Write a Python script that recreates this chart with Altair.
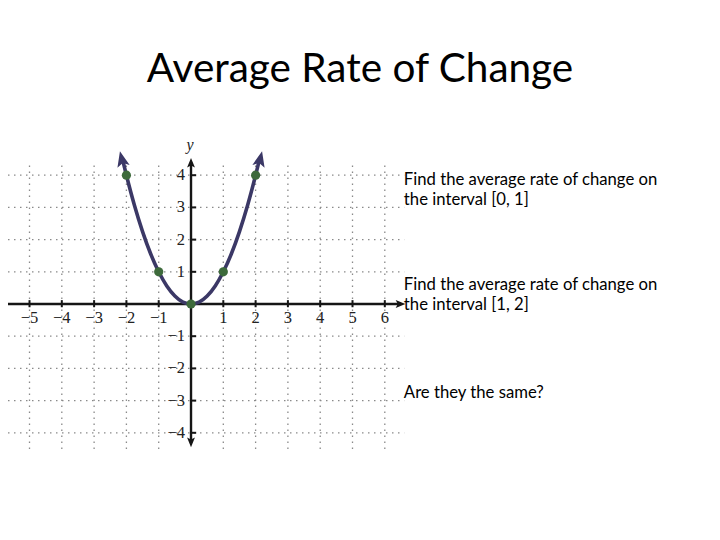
import altair as alt
import pandas as pd

# ---------------- data ----------------
title_text = "Average Rate of Change"

x_ticks = [-6, -5, -4, -3, -2, -1, 1, 2, 3, 4, 5, 6]
x_tick_labels = ["−6", "−5", "−4", "−3", "−2", "−1", "1", "2", "3", "4", "5", "6"]
y_ticks = [-4, -3, -2, -1, 1, 2, 3, 4]
y_tick_labels = ["−4", "−3", "−2", "−1", "1", "2", "3", "4"]

curve_x = [-2.12, -2.0, -1.75, -1.5, -1.25, -1.0, -0.75, -0.5, -0.25, 0.0,
           0.25, 0.5, 0.75, 1.0, 1.25, 1.5, 1.75, 2.0, 2.12]
curve_y = [4.49, 4.0, 3.06, 2.25, 1.56, 1.0, 0.56, 0.25, 0.06, 0.0,
           0.06, 0.25, 0.56, 1.0, 1.56, 2.25, 3.06, 4.0, 4.49]

point_x = [-2, -1, 0, 1, 2]
point_y = [4, 1, 0, 1, 4]

curve_arrow_x = [-2.14, 2.14]
curve_arrow_y = [4.49, 4.49]
curve_arrow_angle = [346.6, 13.4]

questions = [
    "Find the average rate of change on\nthe interval [0, 1]",
    "Find the average rate of change on\nthe interval [1, 2]",
    "Are they the same?",
]
question_y = [3.70, 0.43, -2.92]
question_x = [6.59, 6.59, 6.59]

# extents of the drawn grid / axes (data units)
X_MIN, X_MAX = -5.666, 16.13
Y_MIN, Y_MAX = -7.081, 6.398
GRID_LEFT, GRID_RIGHT = -5.666, 6.6
GRID_BOTTOM, GRID_TOP = -4.5, 4.4
XAXIS_END = 6.5
YAXIS_BOTTOM, YAXIS_TOP = -4.3, 4.4

# ---------------- tables ----------------
vgrid = pd.DataFrame({"x": x_ticks, "y": GRID_BOTTOM, "y2": GRID_TOP})
hgrid = pd.DataFrame({"y": y_ticks, "x": GRID_LEFT, "x2": GRID_RIGHT})
xaxis = pd.DataFrame({"x": [GRID_LEFT], "x2": [XAXIS_END], "y": [0]})
yaxis = pd.DataFrame({"x": [0], "y": [YAXIS_BOTTOM], "y2": [YAXIS_TOP]})
xtick_df = pd.DataFrame({"x": x_ticks, "y": -0.1, "y2": 0.12, "label": x_tick_labels})
ytick_df = pd.DataFrame({"y": y_ticks, "x": -0.02, "x2": 0.16, "label": y_tick_labels})
axis_arrows = pd.DataFrame({"x": [6.475, 0, 0], "y": [0, 4.375, -4.285], "angle": [90, 0, 180]})
curve = pd.DataFrame({"x": curve_x, "y": curve_y})
points = pd.DataFrame({"x": point_x, "y": point_y})
curve_arrows = pd.DataFrame({"x": curve_arrow_x, "y": curve_arrow_y, "angle": curve_arrow_angle})
qdf = pd.DataFrame({"x": question_x, "y": question_y, "text": questions})
ylab = pd.DataFrame({"x": [-0.03], "y": [4.94], "text": ["y"]})

xs = alt.Scale(domain=[X_MIN, X_MAX], nice=False, zero=False)
ys = alt.Scale(domain=[Y_MIN, Y_MAX], nice=False, zero=False)
X = lambda f="x": alt.X(f"{f}:Q", scale=xs, axis=None)
Y = lambda f="y": alt.Y(f"{f}:Q", scale=ys, axis=None)

ARROW = "M0,-1 L0.75,0.85 L0,0.45 L-0.75,0.85 Z"
GRID_COLOR = "#8a8a8a"
AXIS_COLOR = "#151515"
CURVE_COLOR = "#3b3866"
POINT_COLOR = "#3d6a3b"

l_vgrid = alt.Chart(vgrid).mark_rule(color=GRID_COLOR, strokeWidth=1.3, strokeDash=[1.5, 4.5]).encode(
    x=X(), y=Y(), y2="y2:Q")
l_hgrid = alt.Chart(hgrid).mark_rule(color=GRID_COLOR, strokeWidth=1.3, strokeDash=[1.5, 4.5]).encode(
    y=Y(), x=X(), x2="x2:Q")
l_xaxis = alt.Chart(xaxis).mark_rule(color=AXIS_COLOR, strokeWidth=2.4).encode(x=X(), x2="x2:Q", y=Y())
l_yaxis = alt.Chart(yaxis).mark_rule(color=AXIS_COLOR, strokeWidth=2.4).encode(x=X(), y=Y(), y2="y2:Q")
l_xticks = alt.Chart(xtick_df).mark_rule(color=AXIS_COLOR, strokeWidth=2).encode(x=X(), y=Y(), y2="y2:Q")
l_yticks = alt.Chart(ytick_df).mark_rule(color=AXIS_COLOR, strokeWidth=2).encode(y=Y(), x=X(), x2="x2:Q")
l_xlabels = alt.Chart(xtick_df).mark_text(
    font="Liberation Serif", fontSize=16.5, color="#222", baseline="middle", align="center", dy=14
).encode(x=X(), y=alt.Y("zero:Q", scale=ys, axis=None), text="label:N").transform_calculate(zero="0")
l_ylabels = alt.Chart(ytick_df).mark_text(
    font="Liberation Serif", fontSize=16.5, color="#222", baseline="middle", align="right", dx=-6
).encode(x=alt.X("zero:Q", scale=xs, axis=None), y=Y(), text="label:N").transform_calculate(zero="0")
l_axis_arrows = alt.Chart(axis_arrows).mark_point(
    shape=ARROW, filled=True, color=AXIS_COLOR, size=110, opacity=1, strokeWidth=0
).encode(x=X(), y=Y(), angle=alt.Angle("angle:Q", scale=None))
l_ylab = alt.Chart(ylab).mark_text(
    font="Liberation Serif", fontSize=16, fontStyle="italic", color="#222", baseline="middle", align="center"
).encode(x=X(), y=Y(), text="text:N")
l_curve = alt.Chart(curve).mark_line(color=CURVE_COLOR, strokeWidth=3.6, interpolate="monotone").encode(
    x=X(), y=Y(), order="x:Q")
l_curve_arrows = alt.Chart(curve_arrows).mark_point(
    shape=ARROW, filled=True, color=CURVE_COLOR, size=280, opacity=1, strokeWidth=0
).encode(x=X(), y=Y(), angle=alt.Angle("angle:Q", scale=None))
l_points = alt.Chart(points).mark_circle(color=POINT_COLOR, size=85, opacity=1).encode(x=X(), y=Y())
l_text = alt.Chart(qdf).mark_text(
    font="Lato", fontSize=16.7, color="#000", align="left", baseline="alphabetic", lineBreak="\n", lineHeight=20
).encode(x=X(), y=Y(), text="text:N")

chart = alt.layer(
    l_vgrid, l_hgrid, l_xaxis, l_yaxis, l_xticks, l_yticks, l_xlabels, l_ylabels,
    l_axis_arrows, l_ylab, l_curve, l_curve_arrows, l_points, l_text
).properties(
    width=704,
    height=434,
    autosize="none",
    padding={"left": 0, "right": 0, "top": 90, "bottom": 0},
    background="white",
    title=alt.TitleParams(
        title_text, font="Lato", fontSize=40.5, fontWeight="normal", color="#000",
        anchor="middle", frame="group", baseline="alphabetic", offset=18, dy=42
    ),
).configure_view(strokeWidth=0)

chart.save("out.html", embed_options={"renderer": "svg", "actions": False})
